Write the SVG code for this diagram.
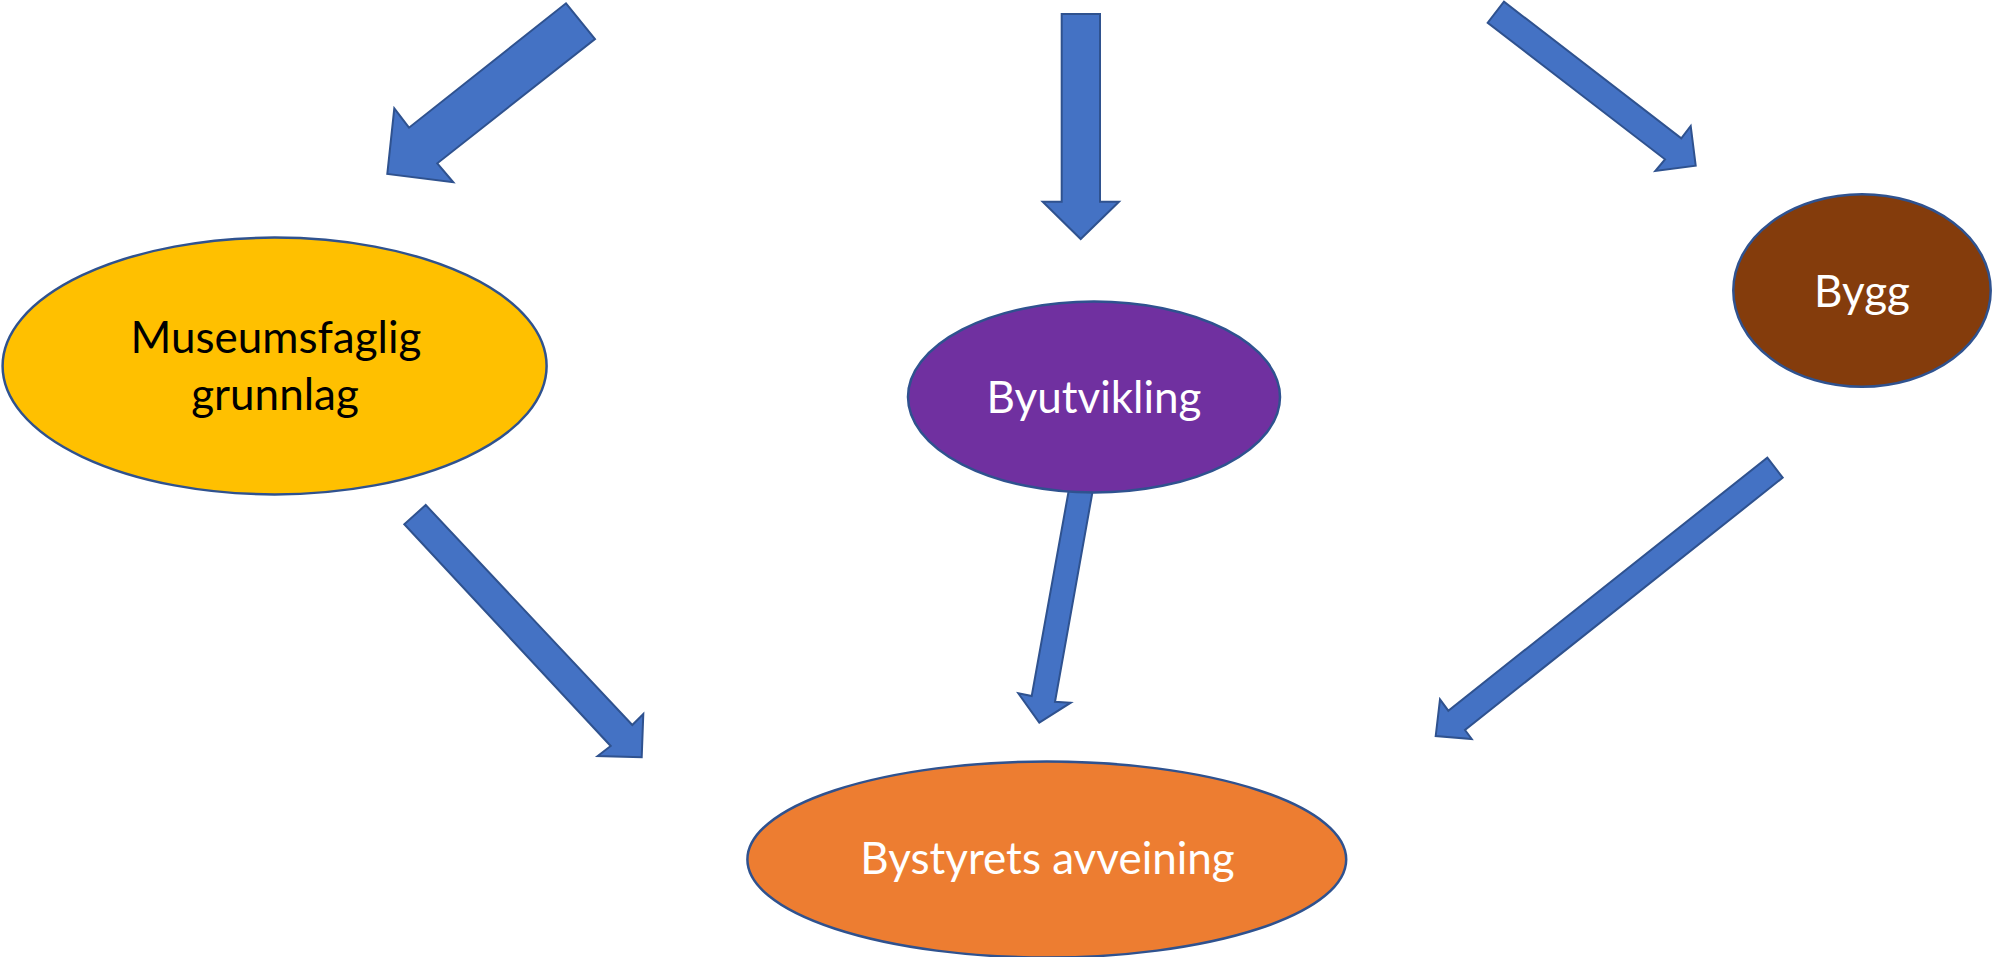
<svg xmlns="http://www.w3.org/2000/svg" width="1993" height="957" viewBox="0 0 1993 957">
  <style>
    .arrow { fill: #4472C4; stroke: #2F528F; stroke-width: 2; stroke-linejoin: miter; }
    .node { stroke: #2F528F; stroke-width: 2.5; }
    .label { font-family: Lato, "Noto Sans", "Liberation Sans", sans-serif; font-size: 44px; text-anchor: middle; }
    .dark { fill: #000000; }
    .light { fill: #FFFFFF; }
  </style>
  <rect width="1993" height="957" fill="#FFFFFF"/>
  <g id="connectors">
    <polygon class="arrow" points="566,3.3 595,39 437.3,163.3 453.3,182.3 387.3,174 394.3,108.3 409,127.7"/>
    <polygon class="arrow" points="1061.7,14 1100,14 1100,201.7 1119,201.7 1080.7,239 1042.7,201.7 1061.7,201.7"/>
    <polygon class="arrow" points="1504,1.7 1487.7,22.7 1665,159.3 1655.3,171 1695.7,165.7 1690.7,126 1681.3,138.3"/>
    <polygon class="arrow" points="425.7,505 404.3,524.3 610.7,746 597.7,756 641.7,757.3 643.3,714 632.3,725"/>
    <polygon class="arrow" points="1069.2,488 1093.2,488 1055,701.7 1070.7,702.7 1039.3,722.7 1018.3,693.3 1031.7,696"/>
    <polygon class="arrow" points="1767.3,457.7 1782.7,477.7 1465,730 1471.7,739 1435.7,736 1440,699.3 1448.3,710.7"/>
  </g>
  <g id="node-museumsfaglig">
    <ellipse class="node" cx="274.6" cy="366" rx="272" ry="128.4" fill="#FFC000"/>
    <text class="label dark" x="276" y="353">Museumsfaglig</text>
    <text class="label dark" x="275" y="410">grunnlag</text>
  </g>
  <g id="node-byutvikling">
    <ellipse class="node" cx="1094" cy="397" rx="186" ry="95.5" fill="#7030A0"/>
    <text class="label light" x="1094" y="413">Byutvikling</text>
  </g>
  <g id="node-bygg">
    <ellipse class="node" cx="1862" cy="290.5" rx="128.7" ry="96.2" fill="#843C0C"/>
    <text class="label light" x="1862" y="307">Bygg</text>
  </g>
  <g id="node-bystyret">
    <ellipse class="node" cx="1046.8" cy="859.5" rx="299.4" ry="98" fill="#ED7D31"/>
    <text class="label light" x="1047.5" y="874">Bystyrets avveining</text>
  </g>
</svg>
